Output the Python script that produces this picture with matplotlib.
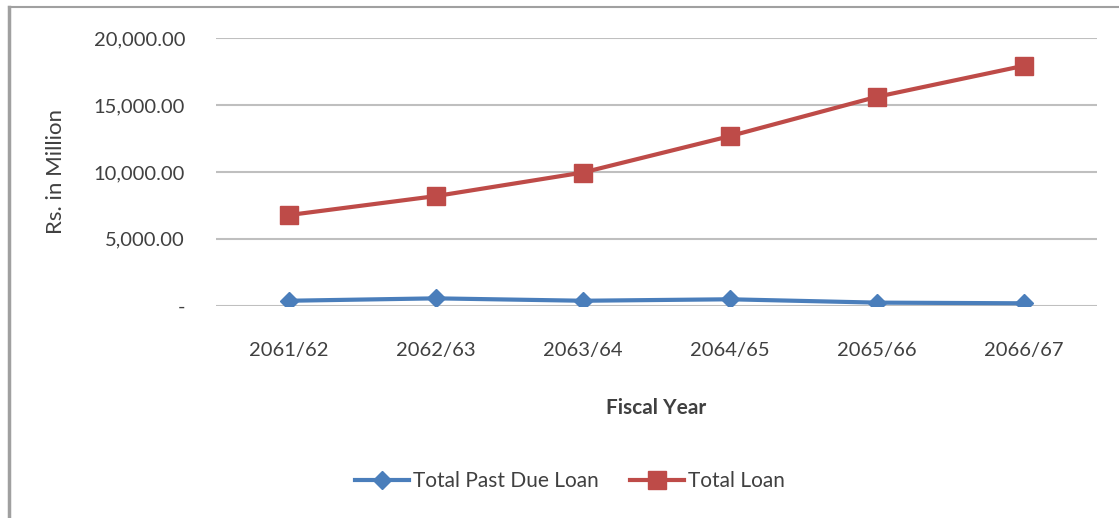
import matplotlib
matplotlib.use("Agg")
import matplotlib.pyplot as plt
from matplotlib.ticker import FuncFormatter
from matplotlib.lines import Line2D

categories = ["2061/62", "2062/63", "2063/64", "2064/65", "2065/66", "2066/67"]
past_due = [370, 550, 370, 480, 230, 180]
total_loan = [6780, 8200, 9960, 12680, 15620, 17940]
yticks = [0, 5000, 10000, 15000, 20000]

plt.rcParams['font.family'] = ['Lato', 'DejaVu Sans']

W, H = 1119, 518
fig = plt.figure(figsize=(W / 100, H / 100), dpi=100)
fig.patch.set_facecolor("white")

# outer border (left and top visible)
fig.add_artist(Line2D([9 / W, 9 / W], [0, 1 - 7 / H], transform=fig.transFigure, color="#A0A0A0", lw=2.5))
fig.add_artist(Line2D([9 / W, 1], [1 - 7 / H, 1 - 7 / H], transform=fig.transFigure, color="#A0A0A0", lw=1.5))

left, right, top, bottom = 215.6, 1097, 38.3, 305.7
ax = fig.add_axes([left / W, 1 - bottom / H, (right - left) / W, (bottom - top) / H])
x = list(range(len(categories)))

blue = "#4A7EBB"
red = "#BE4B48"
ax.plot(x, past_due, color=blue, lw=3, marker="D", markersize=9, label="Total Past Due Loan", zorder=3)
ax.plot(x, total_loan, color=red, lw=3, marker="s", markersize=13, label="Total Loan", zorder=3)

ax.set_xlim(-0.5, len(categories) - 0.5)
ax.set_ylim(0, 20000)
ax.set_yticks(yticks)
ax.yaxis.set_major_formatter(FuncFormatter(lambda v, p: "-" if v == 0 else f"{v:,.2f}"))
ax.set_xticks(x)
ax.set_xticklabels(categories)
ax.grid(axis="y", color="#BFBFBF", lw=1.5)
ax.set_axisbelow(True)
for s in ["top", "right", "left", "bottom"]:
    ax.spines[s].set_visible(False)
ax.tick_params(axis="both", length=0, labelsize=14.5, colors="#404040")
ax.tick_params(axis="y", pad=22)
ax.tick_params(axis="x", pad=26)
ax.set_ylabel("Rs. in Million", fontsize=16, color="#404040", labelpad=20)
ax.set_xlabel("Fiscal Year", fontsize=15, fontweight="bold", color="#404040", labelpad=28)

fig.legend(loc="center", bbox_to_anchor=(570 / W, 1 - 481 / H), ncol=2, frameon=False,
           fontsize=15, labelcolor="#404040", handlelength=2.6, columnspacing=1.5, handletextpad=0.2)

fig.savefig("out.png", dpi=100, facecolor="white")
